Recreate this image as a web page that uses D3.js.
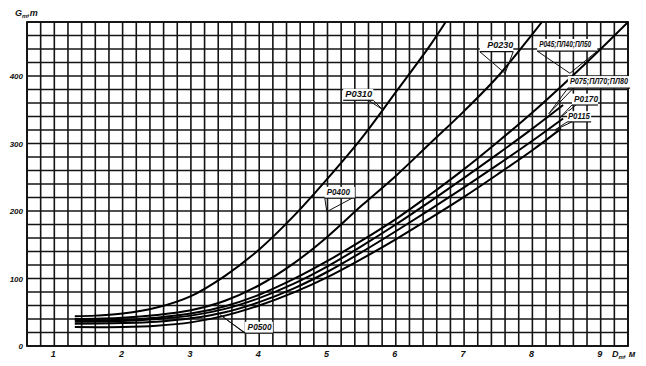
<!DOCTYPE html>
<html>
<head>
<meta charset="utf-8">
<script src="https://cdn.jsdelivr.net/npm/d3@7"></script>
<style>
  body { margin: 0; background: #fff; }
  text { font-family: "Liberation Sans", "DejaVu Sans", sans-serif; font-style: italic; font-weight: bold; fill: #111; }
</style>
</head>
<body>
<div id="chart"></div>
<script>
const w = 646;
const h = 366;

// axis extents and tick labels
const xDomain = [0.6, 9.4];
const yDomain = [0, 480];
const xTicks = [1, 2, 3, 4, 5, 6, 7, 8, 9];
const yTicks = [0, 100, 200, 300, 400];

// curves, [D, G]
const curveP0310 = [[1.3,44],[1.6,45],[2.0,48],[2.5,57],[3.0,74],[3.5,104],[4.0,143],[4.5,192],[5.0,248],[5.5,308],[6.0,376],[6.5,445],[6.73,480]];
const curveP0230 = [[1.3,40],[2.0,42],[2.5,46],[3.0,53],[3.5,67],[4.0,90],[4.5,122],[5.0,162],[5.5,208],[6.0,252],[6.5,300],[7.0,348],[7.5,400],[8.0,462],[8.14,480]];
const curveP045 = [[1.3,38],[2.0,39],[2.5,42],[3.0,48],[3.5,59],[4.0,76],[4.5,99],[5.0,126],[5.5,156],[6.0,188],[6.5,224],[7.0,262],[7.5,303],[8.0,346],[8.5,392],[9.0,440],[9.5,490]];
const curveP075 = [[1.3,36],[2.0,37],[2.5,40],[3.0,45],[3.5,55],[4.0,71],[4.5,92],[5.0,118],[5.5,148],[6.0,180],[6.5,214],[7.0,249],[7.5,285],[8.0,322],[8.45,357]];
const curveP0170 = [[1.3,33],[2.0,34],[2.5,36],[3.0,41],[3.5,50],[4.0,65],[4.5,85],[5.0,110],[5.5,139],[6.0,170],[6.5,202],[7.0,235],[7.5,269],[8.0,304],[8.45,337]];
const curveP0115 = [[1.3,28],[2.0,28],[2.5,30],[3.0,35],[3.5,45],[4.0,60],[4.5,79],[5.0,102],[5.5,129],[6.0,158],[6.5,189],[7.0,221],[7.5,255],[8.0,290],[8.42,322]];

const curves = [curveP0310, curveP0230, curveP045, curveP075, curveP0170, curveP0115];

// curve labels: text start, underline span, the two leader base points and the tip (data units)
const labelNames = ["Р0310", "Р0400", "Р0230", "Р045;ПЛ40;ПЛ50", "Р075;ПЛ70;ПЛ80", "Р0170", "Р0115", "Р0500"];
const labelText = [[5.26,369],[4.99,224],[7.34,441],[8.10,443],[8.55,388],[8.61,362],[8.52,336],[3.83,24]];
const labelLine = [[5.23,5.67,364],[4.96,5.40,219],[7.23,7.72,436],[8.07,8.95,437],[8.52,9.43,382],[8.58,8.96,357],[8.51,8.86,332],[3.79,4.20,19]];
const labelBase = [[[5.60,364],[5.67,364]],[[4.96,219],[5.36,219]],[[7.23,436],[7.72,436]],[[8.07,437],[8.95,437]],[[8.52,382],[8.60,382]],[[8.58,357],[8.64,357]],[[8.51,332],[8.58,332]],[[3.79,19],[3.80,19]]];
const labelTip = [[5.81,350],[4.99,199],[7.60,404],[8.55,404],[8.24,344],[8.40,338],[8.33,320],[3.43,46]];
const labelWidth = [27, 23, 26, 52, 58, 24, 22, 24];

const margin = {left: 27, right: 18, top: 22, bottom: 20};

const x = d3.scaleLinear().domain(xDomain).range([margin.left, w - margin.right]);
const y = d3.scaleLinear().domain(yDomain).range([h - margin.bottom, margin.top]);

const svg = d3.select("#chart").append("svg").attr("width", w).attr("height", h);

svg.append("clipPath").attr("id", "plot")
    .append("rect")
    .attr("x", x(xDomain[0])).attr("y", y(yDomain[1]))
    .attr("width", x(xDomain[1]) - x(xDomain[0]))
    .attr("height", y(yDomain[0]) - y(yDomain[1]));

// grid: every 0.2 m and every 20 t
const xGrid = d3.range(3, 48).map(i => i / 5);
const yGrid = d3.range(0, 25).map(i => i * 20);

svg.append("g").selectAll("line")
    .data(xGrid)
    .enter()
    .append("line")
    .attr("x1", d => x(d)).attr("x2", d => x(d))
    .attr("y1", y(yDomain[0])).attr("y2", y(yDomain[1]))
    .style("stroke", "#141414")
    .style("stroke-width", 1.6);

svg.append("g").selectAll("line")
    .data(yGrid)
    .enter()
    .append("line")
    .attr("x1", x(xDomain[0])).attr("x2", x(xDomain[1]))
    .attr("y1", d => y(d)).attr("y2", d => y(d))
    .style("stroke", "#141414")
    .style("stroke-width", 1.6);

// frame
svg.append("rect")
    .attr("x", x(xDomain[0])).attr("y", y(yDomain[1]))
    .attr("width", x(xDomain[1]) - x(xDomain[0]))
    .attr("height", y(yDomain[0]) - y(yDomain[1]))
    .style("fill", "none")
    .style("stroke", "#111")
    .style("stroke-width", 1.8);

// curves
const line = d3.line()
    .x(d => x(d[0]))
    .y(d => y(d[1]))
    .curve(d3.curveCatmullRom.alpha(0.5));

svg.append("g").attr("clip-path", "url(#plot)")
    .selectAll("path")
    .data(curves)
    .enter()
    .append("path")
    .attr("d", line)
    .style("fill", "none")
    .style("stroke", "#000")
    .style("stroke-width", 2);

// tick labels
svg.append("g").selectAll("text")
    .data(xTicks)
    .enter()
    .append("text")
    .attr("x", d => x(d) - 1)
    .attr("y", h - 9)
    .attr("text-anchor", "middle")
    .style("font-size", "9px")
    .text(d => d);

svg.append("g").selectAll("text")
    .data(yTicks)
    .enter()
    .append("text")
    .attr("x", x(xDomain[0]) - 4)
    .attr("y", d => y(d) + 3)
    .attr("text-anchor", "end")
    .style("font-size", "8px")
    .text(d => d);

// axis titles
const yTitle = svg.append("text").attr("x", 15).attr("y", 16).style("font-size", "9px");
yTitle.append("tspan").text("G");
yTitle.append("tspan").attr("dy", 2).style("font-size", "6px").text("т");
yTitle.append("tspan").attr("dy", -2).text(",т");

const xTitle = svg.append("text").attr("x", 612).attr("y", h - 9).style("font-size", "9px");
xTitle.append("tspan").text("D");
xTitle.append("tspan").attr("dy", 2).style("font-size", "6px").text("т");
xTitle.append("tspan").attr("dy", -2).text(", м");

// curve labels with underline and pointer
const labels = labelNames.map((name, i) => ({
    name: name,
    text: labelText[i],
    under: labelLine[i],
    base: labelBase[i],
    tip: labelTip[i],
    width: labelWidth[i]
}));

const lg = svg.append("g").selectAll("g")
    .data(labels)
    .enter()
    .append("g");

lg.append("rect")
    .attr("x", d => x(d.under[0]))
    .attr("y", d => y(d.text[1]) - 8)
    .attr("width", d => x(d.under[1]) - x(d.under[0]))
    .attr("height", d => y(d.under[2]) - y(d.text[1]) + 8)
    .style("fill", "#fff");

lg.append("text")
    .attr("x", d => x(d.text[0]))
    .attr("y", d => y(d.text[1]))
    .attr("textLength", d => d.width)
    .attr("lengthAdjust", "spacingAndGlyphs")
    .style("font-size", "8.5px")
    .text(d => d.name);

lg.append("line")
    .attr("x1", d => x(d.under[0])).attr("x2", d => x(d.under[1]))
    .attr("y1", d => y(d.under[2])).attr("y2", d => y(d.under[2]))
    .style("stroke", "#111")
    .style("stroke-width", 1.2);

lg.append("path")
    .attr("d", d => `M${x(d.base[0][0])},${y(d.base[0][1])}L${x(d.tip[0])},${y(d.tip[1])}L${x(d.base[1][0])},${y(d.base[1][1])}`)
    .style("fill", "none")
    .style("stroke", "#111")
    .style("stroke-width", 1);
</script>
</body>
</html>
